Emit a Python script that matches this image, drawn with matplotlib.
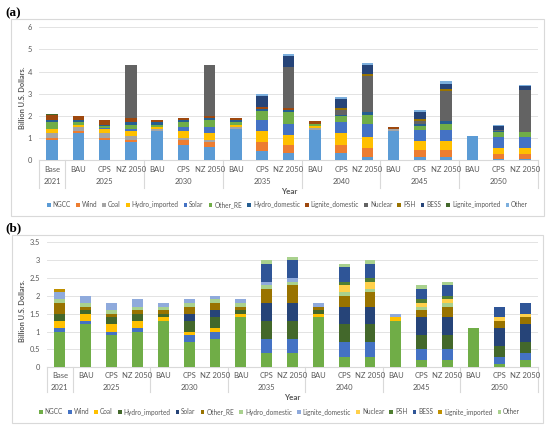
import numpy as np
import matplotlib
matplotlib.use('Agg')
import matplotlib.pyplot as plt
import matplotlib.transforms as mtransforms
from matplotlib.patches import Rectangle

plt.rcParams['font.family'] = ['Lato', 'DejaVu Sans']

# categories
scenarios = ['Base', 'BAU', 'CPS', 'NZ 2050', 'BAU', 'CPS', 'NZ 2050', 'BAU', 'CPS', 'NZ 2050',
             'BAU', 'CPS', 'NZ 2050', 'BAU', 'CPS', 'NZ 2050', 'BAU', 'CPS', 'NZ 2050']
years = ['2021', '2025', '2030', '2035', '2040', '2045', '2050']
group_sizes = [1, 3, 3, 3, 3, 3, 3]
series_names = ['NGCC', 'Wind', 'Coal', 'Hydro_imported', 'Solar', 'Other_RE', 'Hydro_domestic',
                'Lignite_domestic', 'Nuclear', 'PSH', 'BESS', 'Lignite_imported', 'Other']

# panel (a) values, billion USD (stack increments)
ngcc_a = [0.9, 1.2, 0.9, 0.8, 1.3, 0.7, 0.6, 1.4, 0.4, 0.3, 1.35, 0.3, 0.15, 1.3, 0.15, 0.15, 1.1, 0.05, 0.05]
wind_a = [0.1, 0.1, 0.1, 0.1, 0, 0.2, 0.2, 0, 0.4, 0.4, 0, 0.4, 0.4, 0, 0.3, 0.3, 0, 0.2, 0.2]
coal_a = [0.2, 0.2, 0.2, 0.2, 0.1, 0.1, 0.1, 0.1, 0, 0, 0.1, 0, 0, 0.1, 0, 0, 0, 0, 0]
hydro_imp_a = [0.2, 0.1, 0.2, 0.2, 0.1, 0.3, 0.3, 0.1, 0.5, 0.45, 0.1, 0.5, 0.5, 0, 0.4, 0.4, 0, 0.3, 0.3]
solar_a = [0, 0, 0.05, 0.1, 0, 0.2, 0.3, 0, 0.5, 0.5, 0, 0.5, 0.6, 0, 0.5, 0.5, 0, 0.5, 0.5]
other_re_a = [0.3, 0.1, 0.1, 0.2, 0.1, 0.2, 0.3, 0.1, 0.4, 0.5, 0.1, 0.3, 0.4, 0, 0.2, 0.3, 0, 0.2, 0.2]
hydro_dom_a = [0.1, 0.1, 0.05, 0.1, 0.1, 0.1, 0.1, 0.1, 0.1, 0.1, 0, 0.05, 0.1, 0, 0.1, 0.1, 0, 0.05, 0]
lignite_dom_a = [0.25, 0.2, 0.2, 0.2, 0.1, 0.1, 0.1, 0.1, 0.1, 0.1, 0.1, 0, 0, 0.1, 0, 0, 0, 0, 0]
nuclear_a = [0, 0, 0, 2.4, 0, 0, 2.3, 0, 0, 1.85, 0, 0.2, 1.65, 0, 0.1, 1.35, 0, 0.05, 1.9]
psh_a = [0, 0, 0, 0, 0, 0, 0, 0, 0, 0, 0, 0.1, 0.1, 0, 0.1, 0.1, 0, 0, 0]
bess_a = [0, 0, 0, 0, 0, 0, 0, 0, 0.5, 0.5, 0, 0.4, 0.4, 0, 0.3, 0.25, 0, 0.2, 0.2]
lignite_imp_a = [0.05, 0, 0, 0, 0, 0, 0, 0, 0, 0, 0, 0, 0, 0, 0, 0, 0, 0, 0]
other_a = [0, 0, 0, 0, 0, 0, 0, 0, 0.1, 0.1, 0, 0.1, 0.1, 0, 0.1, 0.1, 0, 0.05, 0.05]

# panel (b) values
ngcc_b = [1.0, 1.2, 0.9, 1.0, 1.3, 0.7, 0.8, 1.4, 0.4, 0.4, 1.4, 0.3, 0.3, 1.3, 0.2, 0.2, 1.1, 0.1, 0.2]
wind_b = [0.1, 0.1, 0.1, 0.1, 0, 0.2, 0.2, 0, 0.4, 0.4, 0, 0.4, 0.4, 0, 0.3, 0.3, 0, 0.2, 0.2]
coal_b = [0.2, 0.2, 0.2, 0.2, 0.1, 0.1, 0.1, 0.1, 0, 0, 0.1, 0, 0, 0.1, 0, 0, 0, 0, 0]
hydro_imp_b = [0.2, 0.1, 0.2, 0.2, 0.1, 0.3, 0.3, 0.1, 0.5, 0.5, 0.1, 0.5, 0.5, 0, 0.4, 0.4, 0, 0.3, 0.3]
solar_b = [0, 0, 0, 0, 0, 0.2, 0.2, 0, 0.5, 0.5, 0, 0.5, 0.5, 0, 0.5, 0.5, 0, 0.5, 0.5]
other_re_b = [0.3, 0.1, 0.1, 0.1, 0.1, 0.2, 0.2, 0.1, 0.4, 0.5, 0.1, 0.3, 0.4, 0, 0.2, 0.3, 0, 0.2, 0.2]
hydro_dom_b = [0.1, 0.1, 0.1, 0.1, 0.1, 0.1, 0.1, 0.1, 0.1, 0.1, 0, 0.1, 0.1, 0, 0.1, 0.1, 0, 0, 0]
lignite_dom_b = [0.2, 0.2, 0.2, 0.2, 0.1, 0.1, 0.1, 0.1, 0.1, 0.1, 0.1, 0, 0, 0.1, 0, 0, 0, 0, 0]
nuclear_b = [0, 0, 0, 0, 0, 0, 0, 0, 0, 0, 0, 0.2, 0.2, 0, 0.1, 0.1, 0, 0.1, 0.1]
psh_b = [0, 0, 0, 0, 0, 0, 0, 0, 0, 0, 0, 0.1, 0.1, 0, 0.1, 0.1, 0, 0, 0]
bess_b = [0, 0, 0, 0, 0, 0, 0, 0, 0.5, 0.5, 0, 0.4, 0.4, 0, 0.3, 0.3, 0, 0.3, 0.3]
lignite_imp_b = [0.1, 0, 0, 0, 0, 0, 0, 0, 0, 0, 0, 0, 0, 0, 0, 0, 0, 0, 0]
other_b = [0, 0, 0, 0, 0, 0, 0, 0, 0.1, 0.1, 0, 0.1, 0.1, 0, 0.1, 0.1, 0, 0, 0]

colors_a = ['#5B9BD5', '#ED7D31', '#A5A5A5', '#FFC000', '#4472C4', '#70AD47', '#255E91',
            '#9E480E', '#636363', '#997300', '#264478', '#43682B', '#7CAFDD']
colors_b = ['#70AD47', '#4472C4', '#FFC000', '#43682B', '#264478', '#997300', '#A9D18E',
            '#8FAADC', '#FFD04A', '#507E32', '#2F5597', '#BF9000', '#A9D18E']

data_a = [ngcc_a, wind_a, coal_a, hydro_imp_a, solar_a, other_re_a, hydro_dom_a,
          lignite_dom_a, nuclear_a, psh_a, bess_a, lignite_imp_a, other_a]
data_b = [ngcc_b, wind_b, coal_b, hydro_imp_b, solar_b, other_re_b, hydro_dom_b,
          lignite_dom_b, nuclear_b, psh_b, bess_b, lignite_imp_b, other_b]

txt = '#595959'
grid = '#D9D9D9'
W, H = 550, 429

fig = plt.figure(figsize=(5.5, 4.29), dpi=100)


def px_box(x0, y0, x1, y1):
    # pixel box (top-left origin) -> figure fraction rect
    return [x0 / W, 1 - y1 / H, (x1 - x0) / W, (y1 - y0) / H]


def draw_panel(rect, data, colors, ymax, step, bw, lab_dy, yr_dy, sep_dy, ylab_x, ylab_y):
    ax = fig.add_axes(rect)
    x = np.arange(len(scenarios))
    bottom = np.zeros(len(scenarios))
    for name, vals, c in zip(series_names, data, colors):
        vals = np.array(vals, dtype=float)
        ax.bar(x, vals, bw, bottom=bottom, color=c, label=name, linewidth=0, zorder=3)
        bottom += vals
    ax.set_xlim(-0.5, len(scenarios) - 0.5)
    ax.set_ylim(0, ymax)
    ticks = np.arange(0, ymax + step / 2, step)
    ax.set_yticks(ticks)
    ax.set_yticklabels([f'{t:g}' for t in ticks], fontsize=5.4, color=txt)
    ax.yaxis.grid(True, color='#E3E3E3', linewidth=0.7)
    ax.set_axisbelow(True)
    for s in ['top', 'right', 'left']:
        ax.spines[s].set_visible(False)
    ax.spines['bottom'].set_color(grid)
    ax.spines['bottom'].set_linewidth(0.8)
    ax.tick_params(length=0, pad=5)
    ax.set_xticks([])
    ax.set_ylabel('Billion U.S. Dollars.', fontsize=5.3, fontweight='bold', color=txt)
    ax.yaxis.set_label_coords(ylab_x, ylab_y)

    # multi-level category axis
    trans = mtransforms.blended_transform_factory(ax.transData, ax.transAxes)
    for i, s in enumerate(scenarios):
        ax.text(i, lab_dy, s, transform=trans, ha='center', va='center', fontsize=5.5, color=txt)
    edges = np.concatenate([[0], np.cumsum(group_sizes)]) - 0.5
    for e in edges:
        ax.plot([e, e], [0, sep_dy], transform=trans, color=grid, linewidth=0.8, clip_on=False)
    for k, yr in enumerate(years):
        ax.text((edges[k] + edges[k + 1]) / 2, yr_dy, yr, transform=trans, ha='center',
                va='center', fontsize=5.5, color=txt)
    return ax


# panel frames
for (x0, y0, x1, y1) in [(11, 19, 544, 216), (12, 235, 543, 423)]:
    r = px_box(x0, y0, x1, y1)
    fig.patches.append(Rectangle((r[0], r[1]), r[2], r[3], transform=fig.transFigure,
                                 fill=False, edgecolor='#D9D9D9', linewidth=0.8))

ha = 160 - 27.3
ax_a = draw_panel(px_box(39, 27.3, 538, 160), data_a, colors_a, 6, 1, 0.44,
                  -9 / ha, -22 / ha, -28 / ha, -13 / 499, 0.47)
hb = 367.3 - 242.3
ax_b = draw_panel(px_box(47, 242.3, 538, 367.3), data_b, colors_b, 3.5, 0.5, 0.42,
                  -8.7 / hb, -20.7 / hb, -24.7 / hb, -21 / 491, 0.45)

fig.text(289 / W, 1 - 191 / H, 'Year', ha='center', va='center', fontsize=5.8,
         fontweight='bold', color=txt)
fig.text(292 / W, 1 - 398 / H, 'Year', ha='center', va='center', fontsize=5.8,
         fontweight='bold', color=txt)

for ax, cx, cy in [(ax_a, 287.5, 205), (ax_b, 279.5, 412)]:
    h, l = ax.get_legend_handles_labels()
    fig.legend(h, l, loc='center', bbox_to_anchor=(cx / W, 1 - cy / H), ncol=13,
               frameon=False, fontsize=4.7, handlelength=0.55, handleheight=0.55,
               handletextpad=0.3, columnspacing=0.8, labelcolor=txt, borderpad=0)

fig.text(5 / W, 1 - 13 / H, '(a)', fontsize=9.5, fontweight='bold',
         family='Liberation Serif', va='center', ha='left')
fig.text(5 / W, 1 - 228 / H, '(b)', fontsize=9.5, fontweight='bold',
         family='Liberation Serif', va='center', ha='left')

fig.savefig('out.png', dpi=100)
